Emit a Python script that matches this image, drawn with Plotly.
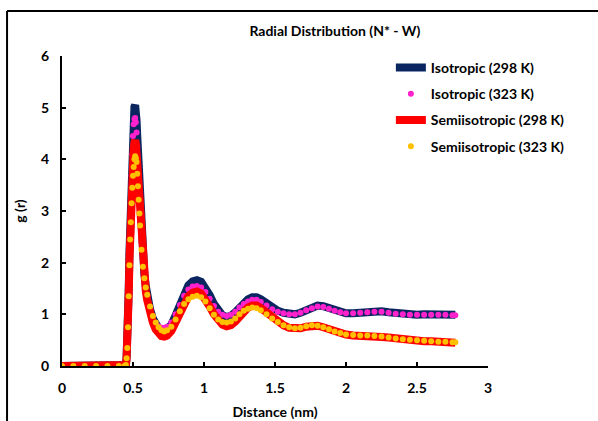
import plotly.graph_objects as go

# distance (nm), shared by all four series
distance = [0.00, 0.08, 0.16, 0.24, 0.32, 0.40, 0.44, 0.45, 0.455, 0.46,
            0.465, 0.47, 0.475, 0.48, 0.485, 0.49, 0.495, 0.50, 0.505, 0.51,
            0.515, 0.52, 0.525, 0.53, 0.535, 0.54, 0.545, 0.55, 0.56, 0.57,
            0.58, 0.59, 0.60, 0.62, 0.64, 0.66, 0.68, 0.70, 0.72, 0.74,
            0.77, 0.80, 0.83, 0.86, 0.89, 0.92, 0.95, 0.98, 1.01, 1.04,
            1.07, 1.10, 1.13, 1.16, 1.19, 1.22, 1.25, 1.28, 1.31, 1.34,
            1.37, 1.40, 1.44, 1.48, 1.52, 1.56, 1.60, 1.64, 1.68, 1.72,
            1.76, 1.80, 1.84, 1.88, 1.92, 1.96, 2.00, 2.05, 2.10, 2.15,
            2.20, 2.25, 2.30, 2.35, 2.40, 2.45, 2.50, 2.55, 2.60, 2.65,
            2.70, 2.75, 2.77]

iso_298 = [0, 0, 0, 0, 0, 0, 0, 0.02, 0.17, 0.40,
           0.85, 1.50, 2.20, 2.85, 3.35, 3.85, 4.30, 4.65, 4.88, 5.02,
           5.05, 4.98, 4.75, 4.45, 4.10, 3.72, 3.35, 3.02, 2.48, 2.08,
           1.78, 1.55, 1.37, 1.10, 0.92, 0.80, 0.73, 0.69, 0.68, 0.71,
           0.80, 0.98, 1.20, 1.42, 1.56, 1.64, 1.66, 1.63, 1.53, 1.37,
           1.20, 1.06, 0.98, 0.95, 0.97, 1.04, 1.13, 1.23, 1.29, 1.33,
           1.33, 1.29, 1.21, 1.13, 1.07, 1.03, 1.00, 1.00, 1.03, 1.09,
           1.14, 1.17, 1.16, 1.12, 1.08, 1.04, 1.02, 1.02, 1.03, 1.05,
           1.06, 1.06, 1.04, 1.02, 1.00, 0.99, 0.99, 1.00, 1.00, 1.00,
           0.99, 0.99, 0.99]

iso_323 = [0, 0, 0, 0, 0, 0, 0, 0.02, 0.16, 0.38,
           0.82, 1.45, 2.12, 2.72, 3.20, 3.68, 4.10, 4.45, 4.68, 4.78,
           4.80, 4.72, 4.52, 4.25, 3.92, 3.58, 3.25, 2.92, 2.40, 2.02,
           1.74, 1.52, 1.36, 1.11, 0.94, 0.83, 0.77, 0.74, 0.74, 0.76,
           0.84, 1.00, 1.18, 1.36, 1.48, 1.54, 1.55, 1.52, 1.43, 1.30,
           1.16, 1.05, 0.99, 0.97, 0.99, 1.05, 1.13, 1.20, 1.25, 1.28,
           1.28, 1.24, 1.17, 1.10, 1.05, 1.02, 1.00, 1.00, 1.03, 1.08,
           1.12, 1.15, 1.14, 1.11, 1.07, 1.04, 1.02, 1.02, 1.03, 1.04,
           1.05, 1.05, 1.03, 1.01, 1.00, 0.99, 0.99, 0.99, 0.99, 0.99,
           0.99, 0.98, 0.98]

semi_298 = [0, 0, 0, 0, 0, 0, 0, 0.02, 0.16, 0.38,
            0.80, 1.40, 2.05, 2.60, 3.00, 3.40, 3.75, 4.02, 4.20, 4.33,
            4.37, 4.30, 4.12, 3.88, 3.60, 3.30, 3.02, 2.76, 2.28, 1.92,
            1.66, 1.45, 1.28, 1.02, 0.84, 0.71, 0.63, 0.58, 0.57, 0.59,
            0.68, 0.84, 1.03, 1.22, 1.35, 1.42, 1.44, 1.40, 1.30, 1.15,
            1.00, 0.88, 0.80, 0.77, 0.79, 0.86, 0.96, 1.06, 1.13, 1.17,
            1.17, 1.12, 1.03, 0.94, 0.86, 0.79, 0.74, 0.72, 0.73, 0.76,
            0.78, 0.78, 0.75, 0.71, 0.67, 0.63, 0.61, 0.59, 0.59, 0.58,
            0.58, 0.56, 0.55, 0.53, 0.52, 0.50, 0.49, 0.48, 0.48, 0.47,
            0.46, 0.46, 0.45]

semi_323 = [0, 0, 0, 0, 0, 0, 0, 0.02, 0.15, 0.35,
            0.75, 1.35, 1.95, 2.45, 2.78, 3.15, 3.45, 3.68, 3.85, 4.00,
            4.06, 4.02, 3.95, 3.72, 3.48, 3.22, 2.95, 2.72, 2.25, 1.92,
            1.70, 1.52, 1.38, 1.15, 0.97, 0.84, 0.75, 0.69, 0.67, 0.69,
            0.76, 0.90, 1.06, 1.20, 1.29, 1.34, 1.36, 1.33, 1.25, 1.12,
            0.99, 0.90, 0.85, 0.84, 0.86, 0.92, 1.00, 1.07, 1.11, 1.13,
            1.12, 1.08, 1.00, 0.92, 0.85, 0.79, 0.75, 0.73, 0.74, 0.77,
            0.79, 0.78, 0.75, 0.71, 0.67, 0.64, 0.61, 0.60, 0.59, 0.59,
            0.58, 0.57, 0.55, 0.53, 0.52, 0.51, 0.50, 0.49, 0.48, 0.47,
            0.47, 0.46, 0.46]

FONT = "Lato"

fig = go.Figure()
fig.add_trace(go.Scatter(x=distance, y=iso_298, mode="lines", name="Isotropic (298 K)",
                         legendgroup="a", line=dict(color="#0b2561", width=8)))
fig.add_trace(go.Scatter(x=distance, y=iso_323, mode="markers", name="Isotropic (323 K)",
                         legendgroup="b", marker=dict(color="#ff22cc", size=6)))
fig.add_trace(go.Scatter(x=distance, y=semi_298, mode="lines", name="Semiisotropic (298 K)",
                         legendgroup="c", line=dict(color="#ff0000", width=8)))
fig.add_trace(go.Scatter(x=distance, y=semi_323, mode="markers", name="Semiisotropic (323 K)",
                         legendgroup="d", marker=dict(color="#ffc000", size=6)))

# outer frame (top and left edges of the cropped chart border)
fig.add_shape(type="line", xref="paper", yref="paper", x0=-0.129, x1=1.3, y0=1.145, y1=1.145,
              line=dict(color="black", width=2))
fig.add_shape(type="line", xref="paper", yref="paper", x0=-0.129, x1=-0.129, y0=1.145, y1=-0.2,
              line=dict(color="black", width=2))

fig.update_layout(
    width=598, height=421,
    margin=dict(l=62, r=110, t=56, b=55),
    paper_bgcolor="white", plot_bgcolor="white",
    font=dict(family=FONT, color="black", size=14),
    title=dict(text="<b>Radial Distribution (N* - W)</b>", xref="container", yref="container",
               x=0.56, y=0.926, xanchor="center", yanchor="middle", font=dict(size=14)),
    showlegend=True,
    legend=dict(x=0.772, y=1.013, xanchor="left", yanchor="top", bgcolor="rgba(0,0,0,0)",
                font=dict(size=14, family=FONT, weight="bold"), tracegroupgap=5, itemwidth=30),
)
fig.update_xaxes(range=[0, 3], dtick=0.5, showgrid=False, zeroline=False, showline=True,
                 linecolor="black", linewidth=2, ticks="inside", ticklen=4, tickwidth=2,
                 tickcolor="black", ticklabelstandoff=8, automargin=False,
                 tickfont=dict(size=14, family=FONT, weight="bold"),
                 title=dict(text="<b>Distance (nm)</b>", standoff=12, font=dict(size=14)))
fig.update_yaxes(range=[0, 6], dtick=1, showgrid=False, zeroline=False, showline=True,
                 linecolor="black", linewidth=2, ticks="inside", ticklen=4, tickwidth=2,
                 tickcolor="black", ticklabelstandoff=8, automargin=False,
                 tickfont=dict(size=14, family=FONT, weight="bold"),
                 title=dict(text="<b>g (r)</b>", standoff=12, font=dict(size=14)))

fig.write_html("out.html", config={"displayModeBar": False},
               post_script="document.body.style.margin='0';")
